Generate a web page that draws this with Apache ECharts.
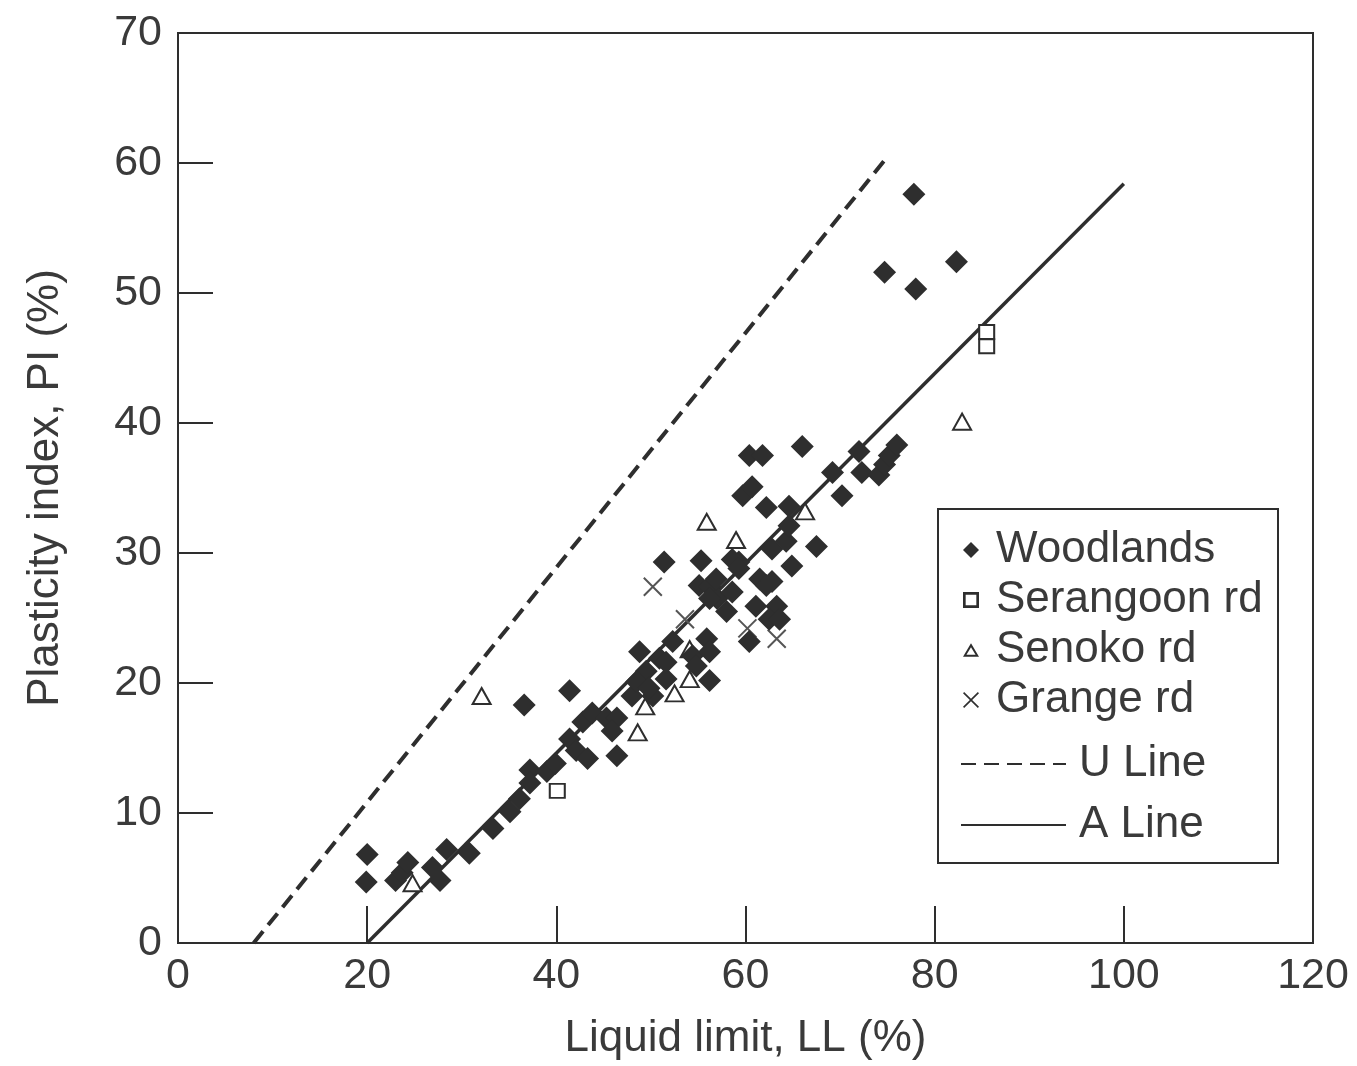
<!DOCTYPE html>
<html>
<head>
<meta charset="utf-8">
<script src="https://cdn.jsdelivr.net/npm/echarts@6/dist/echarts.min.js"></script>
<style>
  html, body { margin: 0; padding: 0; background: #ffffff; }
  #chart { width: 1357px; height: 1066px; }
</style>
</head>
<body>
<div id="chart"></div>
<script>
// Plasticity chart: liquid limit (LL) vs plasticity index (PI), all in %.
const xTicks = [0, 20, 40, 60, 80, 100, 120];
const yTicks = [0, 10, 20, 30, 40, 50, 60, 70];

// [LL, PI] pairs per site
const woodlands = [
  [20.0, 6.8], [19.9, 4.7], [23.0, 4.8], [23.7, 5.4], [24.3, 6.2], [26.9, 5.8],
  [27.7, 4.8], [28.4, 7.2], [30.8, 6.9], [33.3, 8.8], [35.1, 10.1], [36.1, 11.1],
  [37.2, 13.3], [37.2, 12.3], [39.0, 13.2], [39.9, 13.8], [41.4, 15.7], [42.1, 14.8],
  [43.3, 14.2], [42.8, 17.0], [43.8, 17.7], [45.3, 17.3], [46.4, 17.3], [45.9, 16.3],
  [46.4, 14.4], [41.4, 19.4], [36.6, 18.3], [48.0, 19.0], [48.8, 22.4], [49.5, 20.9],
  [50.2, 19.0], [50.9, 21.9], [51.6, 20.3], [52.3, 23.2], [48.5, 20.1], [49.8, 19.6],
  [51.6, 21.6], [54.4, 22.1], [54.8, 21.3], [56.2, 20.2], [55.9, 23.4], [56.2, 22.4],
  [51.4, 29.3], [55.3, 29.4], [55.1, 27.5], [56.2, 27.4], [57.0, 26.5], [56.2, 26.5],
  [58.0, 25.5], [59.3, 29.3], [58.6, 29.5], [59.3, 28.8], [56.9, 28.0], [58.6, 27.0],
  [60.4, 23.2], [61.1, 25.9], [61.5, 28.0], [62.2, 27.5], [63.3, 25.9], [62.5, 24.9],
  [63.6, 24.9], [62.8, 27.8], [62.8, 30.3], [64.3, 30.9], [64.9, 29.0], [59.7, 34.4],
  [60.7, 35.1], [60.4, 37.5], [61.8, 37.5], [62.2, 33.5], [64.6, 33.6], [64.6, 32.1],
  [66.0, 38.2], [67.5, 30.5], [69.2, 36.2], [70.2, 34.4], [72.3, 36.2], [72.0, 37.8],
  [74.1, 36.0], [74.7, 36.8], [75.2, 37.5], [76.0, 38.3], [74.7, 51.6], [77.8, 57.6],
  [78.0, 50.3], [82.3, 52.4]
];
const serangoon = [[40.1, 11.7], [85.5, 47.0], [85.5, 45.9]];
const senoko = [
  [32.1, 19.0], [24.8, 4.6], [48.6, 16.2], [49.4, 18.2], [52.5, 19.2], [54.1, 20.3],
  [54.1, 22.6], [55.9, 32.4], [59.0, 31.0], [66.3, 33.2], [82.9, 40.1]
];
const grange = [[50.2, 27.4], [63.3, 23.4], [53.6, 24.9], [60.2, 24.2]];

// Reference lines (end points)
const uLine = [[8, 0], [74.7, 60.2]];
const aLine = [[20, 0], [100, 58.4]];

const INK = '#2e2e2e';
const TEXT = '#3a3a3a';
const FONT = 'Liberation Sans, Arial, Helvetica, sans-serif';
const FS = 43;
const FS_TITLE = 44;

const chart = echarts.init(document.getElementById('chart'), null, { renderer: 'canvas' });

chart.setOption({
  backgroundColor: '#ffffff',
  animation: false,
  textStyle: { fontFamily: FONT, color: TEXT },
  grid: {
    left: 178, top: 33, right: 44, bottom: 121,
    show: true, borderColor: INK, borderWidth: 2, backgroundColor: 'transparent'
  },
  xAxis: {
    type: 'value', min: xTicks[0], max: xTicks[xTicks.length - 1], interval: 20,
    name: 'Liquid limit, LL (%)', nameLocation: 'middle', nameGap: 74,
    nameTextStyle: { fontSize: FS_TITLE, color: TEXT, fontFamily: FONT },
    axisLine: { lineStyle: { color: INK, width: 2 } },
    axisTick: { inside: true, length: 37, lineStyle: { color: INK, width: 2 } },
    axisLabel: { fontSize: FS, color: TEXT, margin: 12, fontFamily: FONT },
    splitLine: { show: false }
  },
  yAxis: {
    type: 'value', min: yTicks[0], max: yTicks[yTicks.length - 1], interval: 10,
    name: 'Plasticity index, PI (%)', nameLocation: 'middle', nameGap: 110, nameRotate: 90,
    nameTextStyle: { fontSize: FS_TITLE, color: TEXT, fontFamily: FONT },
    axisLine: { lineStyle: { color: INK, width: 2 } },
    axisTick: { inside: true, length: 35, lineStyle: { color: INK, width: 2 } },
    axisLabel: { fontSize: FS, color: TEXT, margin: 16, fontFamily: FONT },
    splitLine: { show: false }
  },
  legend: [
    {
      data: [
        { name: 'Woodlands', icon: 'diamond' },
        { name: 'Serangoon rd', icon: 'path://M2 2H14V14H2Z M4 4V12H12V4Z' },
        { name: 'Senoko rd', icon: 'path://M8 2L15 14H1Z M8 5.5L4 12.2H12Z' },
        { name: 'Grange rd', icon: 'path://M1 2L2 1L8 7L14 1L15 2L9 8L15 14L14 15L8 9L2 15L1 14L7 8Z' }
      ],
      orient: 'vertical', left: 958, top: 522,
      itemWidth: 16, itemHeight: 16, itemGap: 4,
      itemStyle: { color: INK, borderWidth: 0 },
      textStyle: { fontSize: FS_TITLE, color: TEXT, fontFamily: FONT, lineHeight: 46, padding: [0, 0, 0, 12] },
      selectedMode: false, z: 20
    },
    {
      data: ['U Line', 'A Line'],
      orient: 'vertical', left: 955, top: 735,
      itemWidth: 105, itemHeight: 14, itemGap: 13,
      itemStyle: { opacity: 0 },
      textStyle: { fontSize: FS_TITLE, color: TEXT, fontFamily: FONT, lineHeight: 48, padding: [0, 0, 0, 8] },
      selectedMode: false, z: 20
    }
  ],
  graphic: [{
    type: 'rect', left: 937, top: 508, z: 10,
    shape: { width: 340, height: 354 },
    style: { fill: '#ffffff', stroke: INK, lineWidth: 2 }
  }],
  series: [
    {
      name: 'U Line', type: 'line', data: uLine, showSymbol: false, symbol: 'none',
      itemStyle: { color: INK },
      lineStyle: { color: INK, width: 4, type: [15, 8] }, z: 2
    },
    {
      name: 'A Line', type: 'line', data: aLine, showSymbol: false, symbol: 'none',
      itemStyle: { color: INK },
      lineStyle: { color: INK, width: 3.5, type: 'solid' }, z: 2
    },
    {
      name: 'Woodlands', type: 'scatter', data: woodlands, symbol: 'diamond', symbolSize: 23,
      itemStyle: { color: INK, opacity: 1 }, z: 4
    },
    {
      name: 'Serangoon rd', type: 'scatter', data: serangoon, symbol: 'rect', symbolSize: [15, 14],
      itemStyle: { color: '#ffffff', borderColor: INK, borderWidth: 2, opacity: 1 }, z: 3
    },
    {
      name: 'Senoko rd', type: 'scatter', data: senoko, symbol: 'triangle', symbolSize: [18, 16],
      itemStyle: { color: '#ffffff', borderColor: INK, borderWidth: 2, opacity: 1 }, z: 3
    },
    {
      name: 'Grange rd', type: 'scatter', data: grange, symbol: 'path://M0 0L10 10M10 0L0 10', symbolSize: 18,
      itemStyle: { color: 'none', borderColor: '#555555', borderWidth: 2, opacity: 1 }, z: 3
    }
  ]
});
</script>
</body>
</html>
